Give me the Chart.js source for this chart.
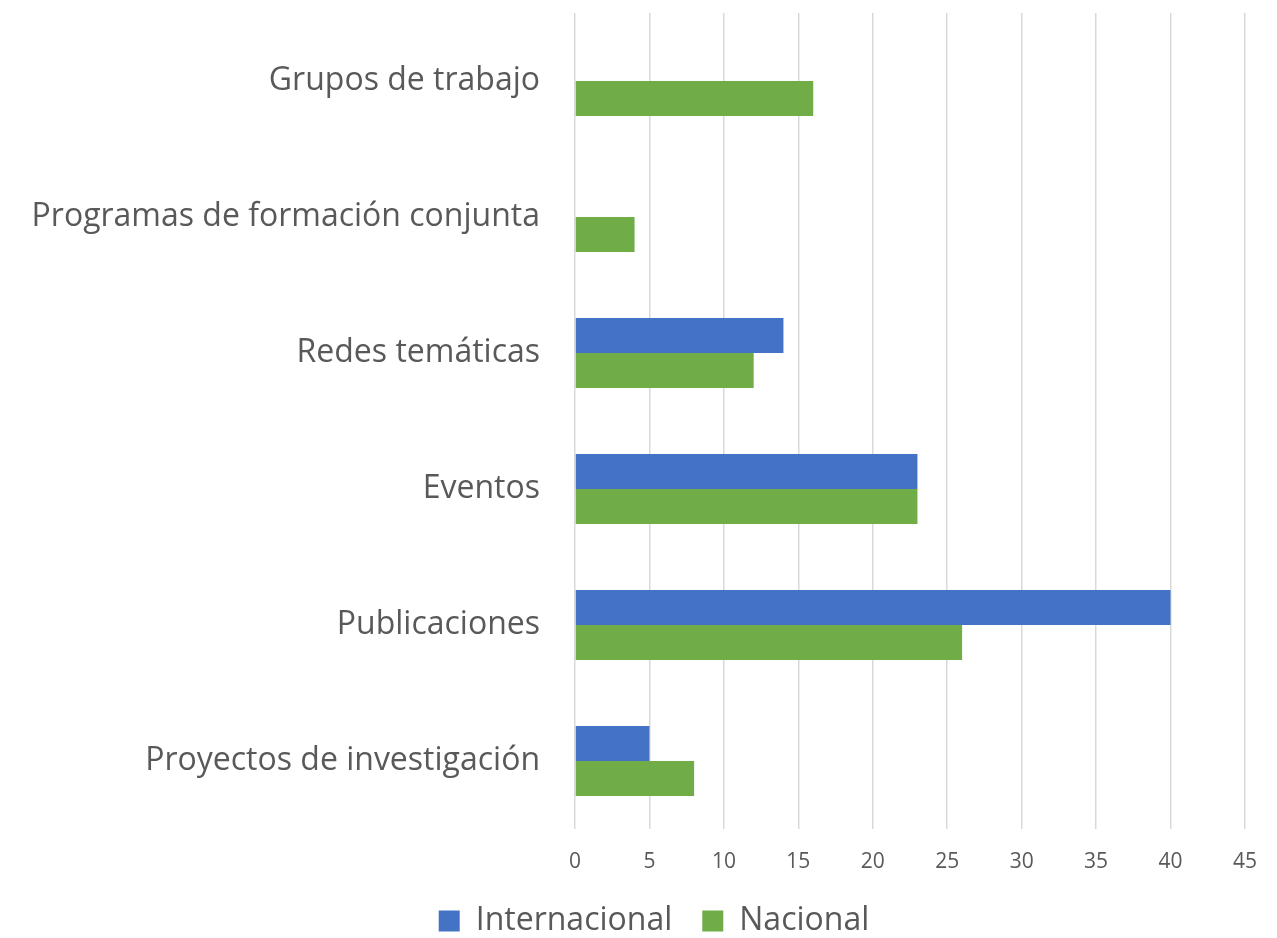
<!DOCTYPE html>
<html>
<head>
<meta charset="utf-8">
<script src="https://cdn.jsdelivr.net/npm/chart.js@4"></script>
<style>
  html, body { margin: 0; padding: 0; background: #fff; }
  #wrap { width: 1277px; height: 938px; }
</style>
</head>
<body>
<div id="wrap"><canvas id="chart" width="1277" height="938"></canvas></div>
<script>
// categories, top to bottom as shown
const categories = [
  'Grupos de trabajo',
  'Programas de formación conjunta',
  'Redes temáticas',
  'Eventos',
  'Publicaciones',
  'Proyectos de investigación'
];
const internacional = [0, 0, 14, 23, 40, 5];
const nacional = [16, 4, 12, 23, 26, 8];
const xMax = 45;
const xStep = 5;

const FONT = "'Open Sans', 'DejaVu Sans', sans-serif";
const GREY = '#595959';

// legend sits a bit right of the canvas centre in the original
const shiftLegend = {
  id: 'shiftLegend',
  afterLayout(chart) {
    chart.legend.left += 31;
    chart.legend.right += 31;
  }
};

new Chart(document.getElementById('chart'), {
  type: 'bar',
  data: {
    labels: categories,
    datasets: [
      { label: 'Internacional', data: internacional, backgroundColor: '#4472C4' },
      { label: 'Nacional', data: nacional, backgroundColor: '#70AD47' }
    ]
  },
  options: {
    indexAxis: 'y',
    responsive: false,
    animation: false,
    layout: { padding: { top: 13, right: 31, bottom: -9, left: 0 } },
    datasets: {
      bar: { categoryPercentage: 0.516, barPercentage: 1.0 }
    },
    scales: {
      x: {
        min: 0,
        max: xMax,
        ticks: { stepSize: xStep, color: GREY, font: { family: FONT, size: 21 }, padding: 20 },
        grid: { color: '#d9d9d9', lineWidth: 1.5, drawTicks: false },
        border: { display: false },
        afterFit: s => { s.height = 46; }
      },
      y: {
        ticks: { color: GREY, font: { family: FONT, size: 32 }, padding: 35 },
        grid: { display: false, drawTicks: false },
        border: { display: false },
        afterFit: s => { s.width = 575; s.paddingTop = 0; s.paddingBottom = 0; }
      }
    },
    plugins: {
      legend: {
        position: 'bottom',
        labels: {
          color: GREY,
          font: { family: FONT, size: 32 },
          boxWidth: 21,
          boxHeight: 21,
          padding: 30
        }
      },
      tooltip: { enabled: false }
    }
  },
  plugins: [shiftLegend]
});
</script>
</body>
</html>
